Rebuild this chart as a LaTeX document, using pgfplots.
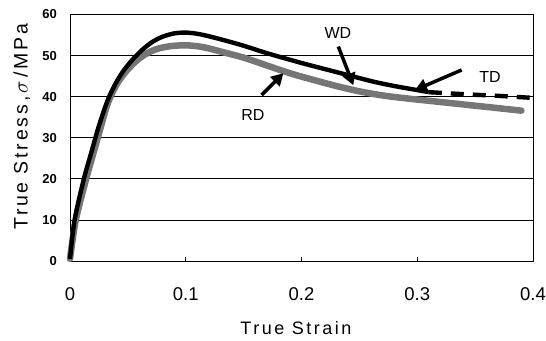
\documentclass[border=0pt]{standalone}
\usepackage{fontspec}
\setmainfont{Liberation Sans}
\newfontfamily\labfont[LetterSpace=14]{Liberation Sans}
\usepackage{pgfplots}
\pgfplotsset{compat=1.18}
\usetikzlibrary{arrows.meta}
\definecolor{rdgray}{RGB}{118,118,118}
\begin{document}
\begin{tikzpicture}[x=1pt,y=1pt]
\path[use as bounding box] (0,0) rectangle (546,340);
\begin{axis}[
  at={(70pt,79pt)}, anchor=south west,
  scale only axis, width=463pt, height=246.5pt,
  xmin=0, xmax=0.4, ymin=0, ymax=60,
  xtick={0,0.1,0.2,0.3,0.4}, xticklabels={0,0.1,0.2,0.3,0.4},
  ytick={0,10,20,30,40,50,60}, yticklabels={0,10,20,30,40,50,60},
  xtick pos=lower, ytick pos=left, tick align=inside,
  major tick length=4pt,
  ymajorgrids, grid style={black, line width=0.7pt},
  axis line style={black, line width=0.8pt},
  tick style={black, line width=0.7pt},
  xticklabel style={font=\fontsize{18.5}{18}\selectfont, anchor=base, inner sep=0pt, yshift=-39pt},
  yticklabel style={font=\bfseries\fontsize{13}{13}\selectfont, anchor=east, inner sep=0pt, xshift=-13pt},
  xlabel={True Strain},
  ylabel={True Stress\,,\,$\sigma$\,/MPa},
  xlabel style={font=\labfont\fontsize{18}{18}\selectfont, at={(axis description cs:0.488,-0.30)}, anchor=base, inner sep=0pt},
  ylabel style={font=\labfont\fontsize{19.5}{19}\selectfont, at={(axis description cs:-0.104,0.544)}, anchor=center, inner sep=0pt},
  clip=false,
]
% RD (gray)
\addplot[rdgray, line width=6.5pt, line join=round, line cap=round, smooth, tension=0.5] coordinates {
(0,0.5) (0.005,10) (0.014,20) (0.022,28) (0.027,33) (0.031,37) (0.035,40) (0.041,43.3) (0.048,46)
(0.056,48.4) (0.065,50.3) (0.075,51.6) (0.087,52.3) (0.1,52.5) (0.112,52.2) (0.122,51.6) (0.134,50.7)
(0.15,49.5) (0.17,47.6)
(0.19,45.7) (0.21,44.1) (0.23,42.6) (0.25,41.3) (0.27,40.3) (0.29,39.6) (0.31,39.0)
(0.33,38.4) (0.35,37.8) (0.37,37.2) (0.39,36.6)
};
% WD (black solid)
\addplot[black, line width=4.4pt, line join=round, smooth, tension=0.5] coordinates {
(0,0.5) (0.004,10) (0.012,20) (0.019,27) (0.024,32) (0.028,35.5) (0.032,38.7) (0.036,41.3) (0.041,44)
(0.047,46.6) (0.054,49) (0.062,51.3) (0.071,53.3) (0.08,54.6) (0.09,55.4) (0.1,55.6) (0.11,55.3) (0.12,54.7)
(0.135,53.6) (0.15,52.4) (0.17,50.6) (0.20,48.2) (0.23,46.0) (0.26,43.8) (0.28,42.6)
(0.30,41.6) (0.31,41.1)
};
% TD (black dashed)
\addplot[black, line width=4.4pt, dash pattern=on 13pt off 9pt] coordinates {
(0.31,41.1) (0.34,40.6) (0.37,40.2) (0.40,39.7)
};
% annotations
\node[font=\fontsize{16}{16}\selectfont] at (axis cs:0.2315,55.4) {WD};
\node[font=\fontsize{16}{16}\selectfont] at (axis cs:0.158,35.5) {RD};
\node[font=\fontsize{16}{16}\selectfont] at (axis cs:0.3628,44.9) {TD};
\draw[line width=3.5pt, -{Triangle[length=12pt,width=13pt]}] (axis cs:0.2318,52.2) -- (axis cs:0.2448,42.8);
\draw[line width=3.5pt, -{Triangle[length=12pt,width=13pt]}] (axis cs:0.1656,40.4) -- (axis cs:0.1843,45.7);
\draw[line width=3.5pt, -{Triangle[length=12pt,width=13pt]}] (axis cs:0.3384,46.5) -- (axis cs:0.298,41.6);
\end{axis}
\end{tikzpicture}
\end{document}
